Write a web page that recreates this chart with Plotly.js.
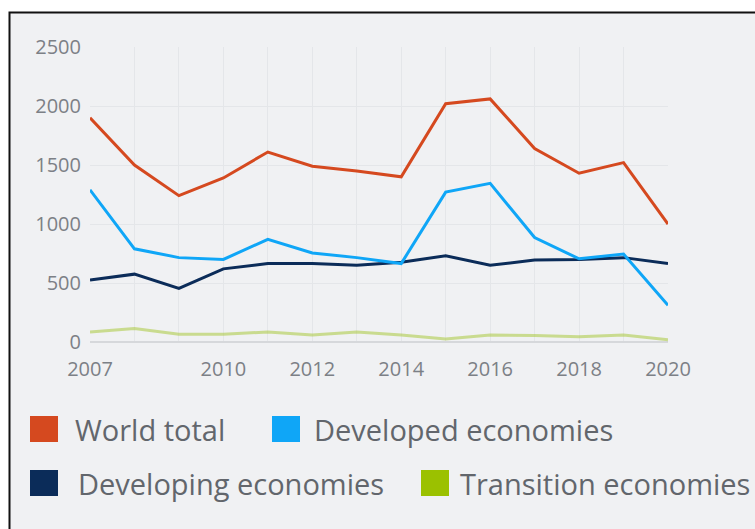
<!DOCTYPE html>
<html>
<head>
<meta charset="utf-8">
<script src="https://cdn.plot.ly/plotly-3.0.1.min.js"></script>
<style>
  html, body { margin: 0; padding: 0; background: #ffffff; }
  #chart { width: 755px; height: 529px; }
</style>
</head>
<body>
<div id="chart"></div>
<script>
// ---- data ----
const years = [2007, 2008, 2009, 2010, 2011, 2012, 2013, 2014, 2015, 2016, 2017, 2018, 2019, 2020];
const worldTotal = [1900, 1500, 1240, 1390, 1610, 1490, 1450, 1400, 2020, 2060, 1640, 1430, 1520, 1000];
const developedEconomies = [1290, 790, 715, 700, 870, 755, 715, 665, 1270, 1345, 885, 705, 745, 312];
const developingEconomies = [525, 575, 455, 620, 665, 665, 650, 675, 730, 650, 695, 700, 715, 665];
const transitionEconomies = [85, 115, 65, 65, 85, 60, 85, 60, 25, 60, 55, 45, 60, 20];
const seriesNames = ["World total", "Developed economies", "Developing economies", "Transition economies"];
const xTickText = ["2007", "", "", "2010", "", "2012", "", "2014", "", "2016", "", "2018", "", "2020"];
const yTickVals = [0, 500, 1000, 1500, 2000, 2500];

// ---- styles ----
const lineColors = ["#d5491f", "#0fa6f7", "#0b2c59", "rgba(170,200,60,0.55)"];
const swatchColors = ["#d5491f", "#0fa6f7", "#0b2c59", "#9bc100"];
const W = 755, H = 529;
const M = { l: 90, r: 87, t: 47, b: 187 };
const plotW = W - M.l - M.r, plotH = H - M.t - M.b;
const px = x => (x - M.l) / plotW;
const py = y => (H - M.b - y) / plotH;

const seriesValues = [worldTotal, developedEconomies, developingEconomies, transitionEconomies];
const traces = seriesValues.map((vals, i) => ({
  type: "scatter",
  mode: "lines",
  x: years,
  y: vals,
  name: seriesNames[i],
  line: { color: lineColors[i], width: 3 },
  showlegend: false,
  hoverinfo: "x+y+name"
}));
traces.reverse();

// legend layout (pixel positions)
const legendItems = [
  { sq: 30, tx: 73, cy: 429 },
  { sq: 272, tx: 312, cy: 429 },
  { sq: 30, tx: 76, cy: 483 },
  { sq: 421, tx: 458, cy: 483 }
];

const shapes = [
  { type: "rect", xref: "paper", yref: "paper", layer: "below",
    x0: px(9.5), x1: px(820), y0: py(12.5), y1: py(600),
    fillcolor: "#f0f1f3", line: { color: "#111111", width: 2 } }
];
const annotations = [];
legendItems.forEach((it, i) => {
  shapes.push({ type: "rect", xref: "paper", yref: "paper", layer: "above",
    x0: px(it.sq), x1: px(it.sq + 28), y0: py(it.cy - 13), y1: py(it.cy + 13),
    fillcolor: swatchColors[i], line: { width: 0 } });
  annotations.push({ xref: "paper", yref: "paper", x: px(it.tx), y: py(it.cy),
    xanchor: "left", yanchor: "middle", showarrow: false, text: seriesNames[i],
    font: { family: "Open Sans, sans-serif", size: 29, color: "#62666c" } });
});

const layout = {
  width: W, height: H,
  margin: M,
  paper_bgcolor: "#ffffff",
  plot_bgcolor: "rgba(0,0,0,0)",
  showlegend: false,
  font: { family: "Open Sans, sans-serif", color: "#7c8086" },
  xaxis: {
    range: [2007, 2020],
    tickvals: years,
    ticktext: xTickText,
    showgrid: true, gridcolor: "#e4e6e9", gridwidth: 1,
    zeroline: false, showline: false, ticks: "",
    tickfont: { size: 20, color: "#7c8086" },
    ticklabelstandoff: 13,
    fixedrange: true
  },
  yaxis: {
    range: [0, 2500],
    tickvals: yTickVals,
    showgrid: true, gridcolor: "#e4e6e9", gridwidth: 1,
    zeroline: true, zerolinecolor: "#d6d8db", zerolinewidth: 1.5,
    showline: false, ticks: "",
    tickfont: { size: 20, color: "#7c8086" },
    ticklabelstandoff: 8,
    fixedrange: true
  },
  shapes: shapes,
  annotations: annotations
};

Plotly.newPlot("chart", traces, layout, { displayModeBar: false, staticPlot: true });
</script>
</body>
</html>
